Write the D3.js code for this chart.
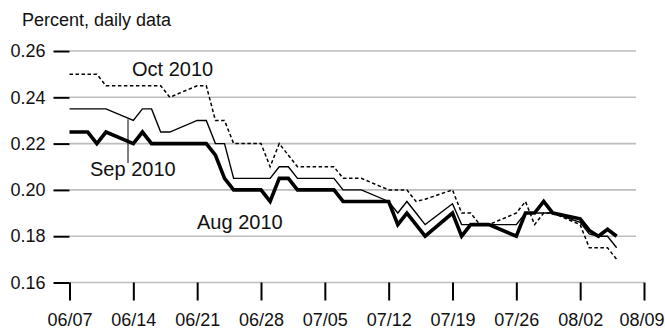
<!DOCTYPE html>
<html>
<head>
<meta charset="utf-8">
<script src="https://cdn.jsdelivr.net/npm/d3@7"></script>
<style>
  html, body { margin: 0; padding: 0; background: #fff; }
  svg { display: block; }
  text { font-family: "Liberation Sans", Arial, Helvetica, sans-serif; fill: #111; }
</style>
</head>
<body>
<svg id="chart" width="665" height="333"></svg>
<script>
// Trading days, 2010 (month/day)
const dates = [
  "06/07","06/08","06/09","06/10","06/11",
  "06/14","06/15","06/16","06/17","06/18",
  "06/21","06/22","06/23","06/24","06/25",
  "06/28","06/29","06/30","07/01","07/02",
  "07/06","07/07","07/08","07/09",
  "07/12","07/13","07/14","07/15","07/16",
  "07/19","07/20","07/21","07/22","07/23",
  "07/26","07/27","07/28","07/29","07/30",
  "08/02","08/03","08/04","08/05","08/06"
];

// Percent, by contract month
const oct2010 = [
  0.250, 0.250, 0.250, 0.250, 0.245,
  0.245, 0.245, 0.245, 0.245, 0.240,
  0.245, 0.245, 0.230, 0.230, 0.220,
  0.220, 0.210, 0.220, 0.215, 0.210,
  0.210, 0.205, 0.205, 0.205,
  0.200, 0.200, 0.200, 0.195, 0.196,
  0.200, 0.190, 0.190, 0.185, 0.185,
  0.190, 0.195, 0.185, 0.190, 0.190,
  0.185, 0.175, 0.175, 0.175, 0.170
];
const sep2010 = [
  0.235, 0.235, 0.235, 0.235, 0.235,
  0.230, 0.235, 0.235, 0.225, 0.225,
  0.230, 0.230, 0.220, 0.220, 0.205,
  0.205, 0.205, 0.210, 0.210, 0.205,
  0.205, 0.200, 0.200, 0.200,
  0.195, 0.190, 0.195, 0.190, 0.185,
  0.194, 0.185, 0.185, 0.185, 0.185,
  0.185, 0.190, 0.190, 0.190, 0.190,
  0.186, 0.181, 0.180, 0.180, 0.175
];
const aug2010 = [
  0.225, 0.225, 0.225, 0.220, 0.225,
  0.220, 0.225, 0.220, 0.220, 0.220,
  0.220, 0.220, 0.215, 0.205, 0.200,
  0.200, 0.195, 0.205, 0.205, 0.200,
  0.200, 0.195, 0.195, 0.195,
  0.195, 0.185, 0.190, 0.185, 0.180,
  0.190, 0.180, 0.185, 0.185, 0.185,
  0.180, 0.190, 0.190, 0.195, 0.190,
  0.1875, 0.1825, 0.180, 0.183, 0.180
];

const yTicks = [0.16, 0.18, 0.20, 0.22, 0.24, 0.26];
const xTickLabels = ["06/07","06/14","06/21","06/28","07/05","07/12","07/19","07/26","08/02","08/09"];

const parse = d3.timeParse("%Y/%m/%d");
const toDate = s => parse("2010/" + s);

const svg = d3.select("#chart");

const x = d3.scaleTime()
  .domain([toDate("06/07"), toDate("08/09")])
  .range([69.5, 644]);
const y = d3.scaleLinear()
  .domain([0.16, 0.26])
  .range([282.5, 51]);

const gridRight = 636;

// horizontal gridlines
svg.append("g")
  .selectAll("line")
  .data(yTicks)
  .join("line")
  .attr("x1", x.range()[0])
  .attr("x2", d => d === 0.16 ? x.range()[1] : gridRight)
  .attr("y1", d => y(d))
  .attr("y2", d => y(d))
  .attr("stroke", "#bdbdbd")
  .attr("stroke-width", 1.6);

// y axis: ticks to the left, no domain line
const yAxis = d3.axisLeft(y)
  .tickValues(yTicks)
  .tickFormat(d3.format(".2f"))
  .tickSize(16)
  .tickPadding(8);
const gy = svg.append("g")
  .attr("transform", `translate(${x.range()[0]},0)`)
  .call(yAxis);
gy.select(".domain").remove();
gy.selectAll(".tick line").attr("stroke", "#000").attr("stroke-width", 2);
gy.selectAll(".tick text")
  .attr("font-size", 18)
  .style("font-family", '"Liberation Sans", Arial, sans-serif')
  .attr("fill", "#111");

// x axis: ticks downward from the bottom gridline
const xAxis = d3.axisBottom(x)
  .tickValues(xTickLabels.map(toDate))
  .tickFormat(d3.timeFormat("%m/%d"))
  .tickSize(18)
  .tickPadding(13);
const gx = svg.append("g")
  .attr("transform", `translate(0,${y(0.16)})`)
  .call(xAxis);
gx.select(".domain").remove();
gx.selectAll(".tick line").attr("stroke", "#000").attr("stroke-width", 2);
gx.selectAll(".tick text")
  .attr("font-size", 18)
  .style("font-family", '"Liberation Sans", Arial, sans-serif')
  .attr("fill", "#111");
// keep the last date label inside the frame
gx.selectAll(".tick text")
  .filter((d, i, nodes) => i === nodes.length - 1)
  .attr("text-anchor", "end")
  .attr("dx", 20);

// unit label
svg.append("text")
  .attr("x", 22)
  .attr("y", 26)
  .attr("font-size", 18)
  .text("Percent, daily data");

// series lines
const line = d3.line()
  .x((d, i) => x(toDate(dates[i])))
  .y(d => y(d));

const series = [
  { name: "Oct 2010", values: oct2010, width: 1.5, dash: "3.5,2.5" },
  { name: "Sep 2010", values: sep2010, width: 1.4, dash: null },
  { name: "Aug 2010", values: aug2010, width: 3.6, dash: null }
];

svg.append("g")
  .selectAll("path")
  .data(series)
  .join("path")
  .attr("d", d => line(d.values))
  .attr("fill", "none")
  .attr("stroke", "#000")
  .attr("stroke-width", d => d.width)
  .attr("stroke-dasharray", d => d.dash)
  .attr("stroke-linejoin", "miter");

// series labels
svg.append("text").attr("x", 132).attr("y", 76).attr("font-size", 20).text("Oct 2010");
svg.append("text").attr("x", 90).attr("y", 176).attr("font-size", 20).text("Sep 2010");
svg.append("text").attr("x", 197).attr("y", 229).attr("font-size", 20).text("Aug 2010");

// leader from the Sep label up to its line
svg.append("line")
  .attr("x1", 128).attr("x2", 128)
  .attr("y1", y(0.2305)).attr("y2", 163)
  .attr("stroke", "#000")
  .attr("stroke-width", 1);
</script>
</body>
</html>
